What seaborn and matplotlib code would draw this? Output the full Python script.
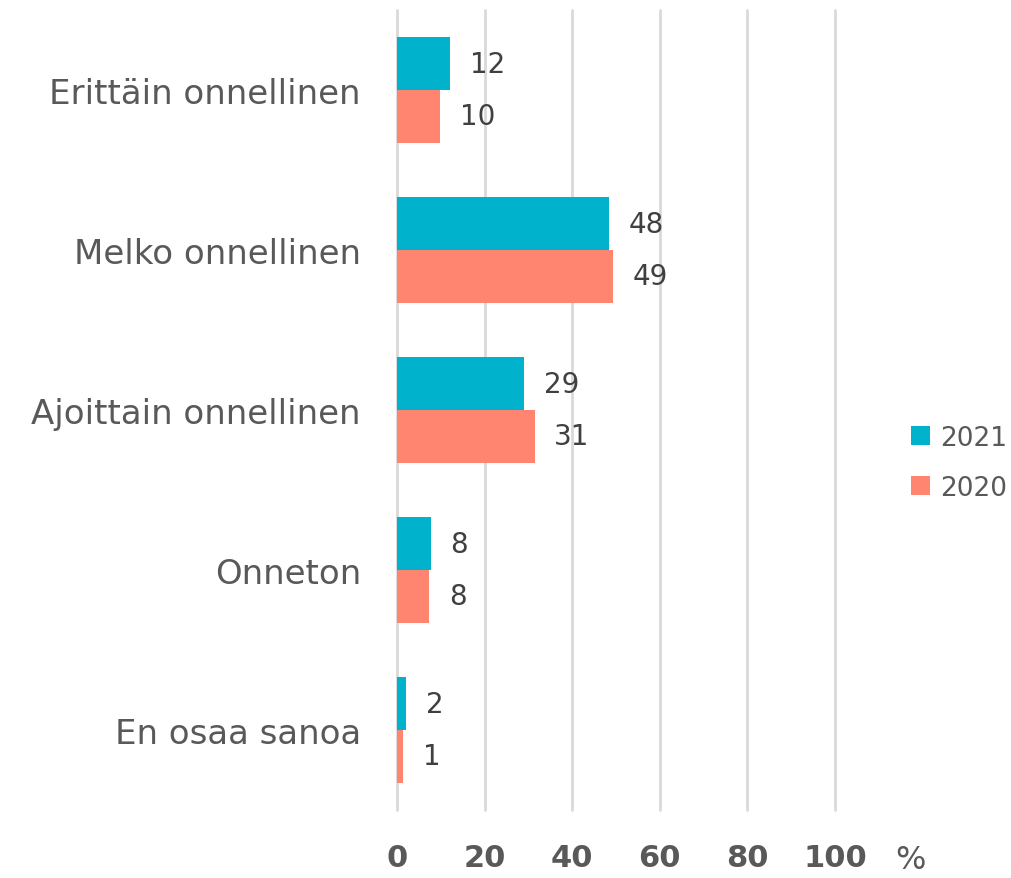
import matplotlib
matplotlib.use("Agg")
import matplotlib.pyplot as plt
import seaborn as sns
import pandas as pd

categories = ["Erittäin onnellinen", "Melko onnellinen", "Ajoittain onnellinen", "Onneton", "En osaa sanoa"]
values_2021 = [12.2, 48.4, 29.1, 7.8, 2.1]
values_2020 = [9.9, 49.4, 31.4, 7.4, 1.4]
labels_2021 = [12, 48, 29, 8, 2]
labels_2020 = [10, 49, 31, 8, 1]
years = ["2021", "2020"]
xticks = [0, 20, 40, 60, 80, 100]

df = pd.DataFrame({
    "cat": categories * 2,
    "val": values_2021 + values_2020,
    "year": [years[0]] * len(categories) + [years[1]] * len(categories),
})

sns.set_theme(style="white")
plt.rcParams['font.family'] = ['DejaVu Sans']
grey = "#595959"

fig = plt.figure(figsize=(10.12, 8.79), dpi=100)
ax = fig.add_axes([0.3923, 0.0774, 0.4328, 0.9101])
sns.barplot(data=df, y="cat", x="val", hue="year", hue_order=years, order=categories,
            palette=["#00B2CC", "#FF8570"], orient="h", width=0.66, gap=0,
            ax=ax, saturation=1, edgecolor="none", legend=True)

for cont, labs in zip(ax.containers, [labels_2021, labels_2020]):
    ax.bar_label(cont, labels=[str(l) for l in labs], padding=14, fontsize=20, color="#404040")

ax.set_xlim(0, 100)
ax.set_xticks(xticks)
ax.set_xticklabels([str(t) for t in xticks], fontsize=22, fontweight="bold", color=grey)
ax.tick_params(axis="x", length=0, pad=24)
ax.tick_params(axis="y", length=0, pad=26, labelsize=24.5, labelcolor=grey)
ax.set_xlabel("")
ax.set_ylabel("")
ax.xaxis.grid(True, color="#D9D9D9", linewidth=2)
for gl in ax.get_xgridlines():
    gl.set_clip_on(False)
ax.set_axisbelow(True)
for s in ax.spines.values():
    s.set_visible(False)

fig.text(910 / 1012, 1 - 861 / 879, "%", fontsize=23, color=grey, ha="center", va="center")

handles, labels = ax.get_legend_handles_labels()
ax.legend(handles, labels, loc="center left", bbox_to_anchor=(1.174, 0.434), frameon=False,
          fontsize=19, labelcolor=grey, handlelength=0.7, handleheight=0.7, handletextpad=0.4,
          labelspacing=0.9, borderpad=0, borderaxespad=0)

fig.savefig("out.png", dpi=100)
